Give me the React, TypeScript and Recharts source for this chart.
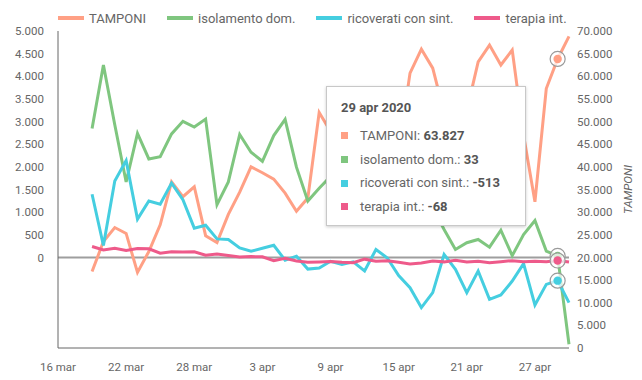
import React from "react";
import { LineChart, Line, XAxis, YAxis, Tooltip, Legend, ReferenceLine } from "recharts";

const days = [
  "16 mar", "17 mar", "18 mar", "19 mar", "20 mar", "21 mar", "22 mar", "23 mar",
  "24 mar", "25 mar", "26 mar", "27 mar", "28 mar", "29 mar", "30 mar", "31 mar",
  "1 apr", "2 apr", "3 apr", "4 apr", "5 apr", "6 apr", "7 apr", "8 apr", "9 apr",
  "10 apr", "11 apr", "12 apr", "13 apr", "14 apr", "15 apr", "16 apr", "17 apr",
  "18 apr", "19 apr", "20 apr", "21 apr", "22 apr", "23 apr", "24 apr", "25 apr",
  "26 apr", "27 apr", "28 apr", "29 apr", "30 apr",
];

const tamponi = [
  null, null, null, 16900, 23500, 26600, 25300, 16700, 21300, 27200, 36700, 33400,
  35600, 24800, 23300, 29500, 34400, 40000, 38700, 37300, 34200, 30200, 33100, 52000,
  47800, 53500, 56600, 46700, 36700, 30000, 43700, 60700, 66000, 61800, 52000, 41500,
  52400, 63200, 66900, 62500, 65800, 47000, 32300, 57300, 63827, 68800,
];

const isolamento = [
  null, null, null, 2845, 4250, 2931, 1667, 2739, 2175, 2223, 2728, 3005, 2880, 3055,
  1164, 1668, 2714, 2322, 2123, 2691, 3050, 1993, 1244, 1527, 1789, 1661, 2210, 2319,
  1270, 900, 1600, 1248, 1900, 1100, 617, 176, 324, 396, 227, 601, 40, 507, 815, 139,
  33, -1916,
];

const ricoverati = [
  null, null, null, 1394, 263, 1688, 2138, 846, 1245, 1175, 1641, 1276, 647, 710, 409,
  397, 211, 137, 201, 269, -61, 27, -258, -233, -86, -157, -98, -297, 176, -12, -400,
  -667, -1108, -778, 66, -264, -778, -301, -925, -830, -522, -139, -1050, -595, -513,
  -998,
];

const terapia = [
  null, null, null, 241, 164, 202, 152, 195, 192, 93, 123, 120, 124, 50, 75, 42, 12,
  18, 15, -74, -17, -79, -106, -99, -88, -108, -116, -38, -83, -74, -107, -143, -124,
  -79, -98, -62, -102, -87, -117, -94, -71, -93, -86, -93, -68, -101,
];

const dateTicks = ["16 mar", "22 mar", "28 mar", "3 apr", "9 apr", "15 apr", "21 apr", "27 apr"];
const leftTicks = [0, 500, 1000, 1500, 2000, 2500, 3000, 3500, 4000, 4500, 5000];
const rightTicks = [0, 5000, 10000, 15000, 20000, 25000, 30000, 35000, 40000, 45000, 50000, 55000, 60000, 65000, 70000];

const series = [
  { key: "tamponi", name: "TAMPONI", color: "#FFA085", axis: "right" },
  { key: "isolamento", name: "isolamento dom.", color: "#7FC67F", axis: "left" },
  { key: "ricoverati", name: "ricoverati con sint.", color: "#45CEE0", axis: "left" },
  { key: "terapia", name: "terapia int.", color: "#EE5A8A", axis: "left" },
];

const data = days.map((day, i) => ({
  day,
  tamponi: tamponi[i],
  isolamento: isolamento[i],
  ricoverati: ricoverati[i],
  terapia: terapia[i],
}));

const font = "Roboto, 'Noto Sans', sans-serif";
const tickStyle = { fill: "#666", fontSize: 11.5, fontFamily: font };

// thousands with a dot, like the italian locale
const fmt = (v: number) => {
  const s = Math.abs(Math.round(v)).toString().replace(/\B(?=(\d{3})+(?!\d))/g, ".");
  return v < 0 ? "-" + s : s;
};

const ringDot = (color: string) => (props: any) => {
  const { cx, cy } = props;
  if (cx == null || cy == null) return <g />;
  return (
    <g>
      <circle cx={cx} cy={cy} r={7.5} fill="#fff" fillOpacity={0.7} stroke="#9a9a9a" strokeWidth={1.2} />
      <circle cx={cx} cy={cy} r={4.2} fill={color} />
    </g>
  );
};

function LegendRow() {
  return (
    <div style={{ display: "flex", alignItems: "center", height: 26, paddingLeft: 58, fontFamily: font, fontSize: 13, color: "#666" }}>
      {series.map((s) => (
        <div key={s.key} style={{ display: "flex", alignItems: "center", marginRight: 21 }}>
          <span style={{ display: "inline-block", width: 26, height: 4, background: s.color, marginRight: 5 }} />
          {s.name}
        </div>
      ))}
    </div>
  );
}

function TipBox({ active, payload, label }: any) {
  if (!active || !payload || !payload.length) return null;
  return (
    <div
      style={{
        width: 198,
        height: 138,
        background: "#fff",
        border: "1px solid #c8c8c8",
        boxShadow: "0 1px 3px rgba(0,0,0,0.2)",
        fontFamily: font,
        fontSize: 13,
        color: "#666",
      }}
    >
      <div style={{ marginTop: 12, marginLeft: 14, lineHeight: "18px", fontWeight: 700, color: "#555" }}>
        {label} 2020
      </div>
      <div style={{ marginTop: 7 }}>
        {payload.map((p: any) => (
          <div key={p.dataKey} style={{ display: "flex", alignItems: "center", lineHeight: "23.7px" }}>
            <span style={{ display: "inline-block", width: 7, height: 7, background: p.color, marginLeft: 14, marginRight: 12 }} />
            <span>
              {p.name}: <b style={{ color: "#555" }}>{fmt(p.value)}</b>
            </span>
          </div>
        ))}
      </div>
    </div>
  );
}

export default function App() {
  return (
    <div style={{ position: "absolute", left: 0, top: 0 }}>
      <LineChart width={642} height={380} data={data} margin={{ top: 5, right: 0, bottom: 2, left: 0 }}>
        <Legend verticalAlign="top" content={<LegendRow />} />
        <XAxis
          dataKey="day"
          ticks={dateTicks}
          interval={0}
          height={30}
          tickLine={false}
          tickMargin={9}
          tick={tickStyle}
          axisLine={{ stroke: "#666" }}
        />
        <YAxis
          yAxisId="left"
          domain={[-2000, 5000]}
          ticks={leftTicks}
          tickFormatter={fmt}
          width={58}
          tickLine={false}
          tickMargin={8}
          tick={tickStyle}
          axisLine={{ stroke: "#666" }}
        />
        <YAxis
          yAxisId="right"
          orientation="right"
          domain={[0, 70000]}
          ticks={rightTicks}
          tickFormatter={fmt}
          width={73}
          tickLine={false}
          axisLine={false}
          tick={tickStyle}
          label={{
            value: "TAMPONI",
            angle: -90,
            position: "center",
            dx: 22,
            style: { fill: "#666", fontSize: 11.5, fontStyle: "italic", fontFamily: font },
          }}
        />
        <ReferenceLine yAxisId="left" y={0} stroke="#9e9e9e" strokeWidth={2} />
        {series.map((s) => (
          <Line
            key={s.key}
            yAxisId={s.axis}
            type="linear"
            dataKey={s.key}
            name={s.name}
            stroke={s.color}
            strokeWidth={3}
            dot={false}
            activeDot={ringDot(s.color)}
            isAnimationActive={false}
          />
        ))}
        <Tooltip
          content={<TipBox />}
          defaultIndex={44}
          active
          position={{ x: 326, y: 86 }}
          cursor={false}
          isAnimationActive={false}
          wrapperStyle={{ outline: "none" }}
        />
      </LineChart>
    </div>
  );
}
